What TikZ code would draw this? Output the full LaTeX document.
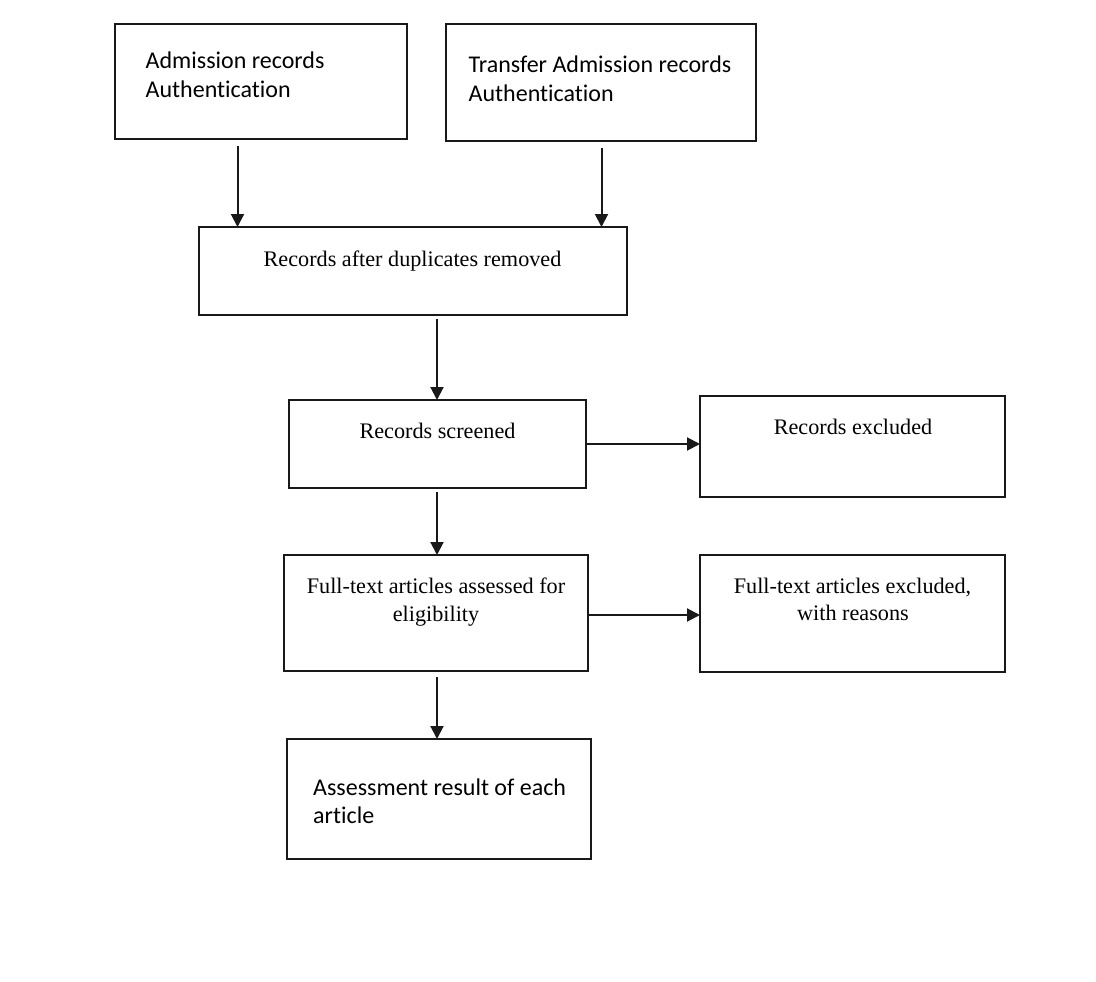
\documentclass[tikz,border=0pt]{standalone}
\usepackage{fontspec}
\newfontfamily\calib[Ligatures=NoCommon]{Carlito}
\newfontfamily\serifx{Liberation Serif}
\usetikzlibrary{arrows.meta}
\begin{document}
\begin{tikzpicture}[x=1pt,y=-1pt,
  box/.style={draw=black!90, line width=1.8pt, inner sep=0pt, outer sep=0pt, rectangle},
  arr/.style={draw=black!90, line width=2pt, -{Triangle[length=13pt,width=13pt]}},
  sanstxt/.style={inner sep=0pt, anchor=base west, font=\calib\fontsize{24}{29}\selectfont},
  seriftxt/.style={inner sep=0pt, anchor=base, font=\serifx\fontsize{22.2}{28}\selectfont}]
\useasboundingbox[fill=white] (0,0) rectangle (1096,982);
% boxes
\node[box, minimum width=292pt, minimum height=115pt] (A) at (261,81.5) {};
\node[box, minimum width=310pt, minimum height=117pt] (B) at (601,82.5) {};
\node[box, minimum width=428pt, minimum height=88pt] (C) at (413,271) {};
\node[box, minimum width=297pt, minimum height=88pt] (D) at (437.5,444) {};
\node[box, minimum width=305pt, minimum height=101pt] (E) at (852.5,446.5) {};
\node[box, minimum width=304pt, minimum height=116pt] (F) at (436,613) {};
\node[box, minimum width=305pt, minimum height=117pt] (G) at (852.5,613.5) {};
\node[box, minimum width=304pt, minimum height=120pt] (H) at (439,799) {};
% texts
\node[sanstxt] (tA1) at (145.5,69) {Admission records};
\node[sanstxt] (tA2) at (145.5,98) {Authentication};
\node[sanstxt] (tB1) at (468.5,73) {Transfer Admission records};
\node[sanstxt] (tB2) at (468.5,102) {Authentication};
\node[seriftxt] (tC) at (412.5,266) {Records after duplicates removed};
\node[seriftxt] (tD) at (437.5,438) {Records screened};
\node[seriftxt] (tE) at (853,434) {Records excluded};
\node[seriftxt] (tF1) at (436,593) {Full-text articles assessed for};
\node[seriftxt] (tF2) at (436,621) {eligibility};
\node[seriftxt] (tG1) at (852.5,593) {Full-text articles excluded,};
\node[seriftxt] (tG2) at (853,620) {with reasons};
\node[sanstxt] (tH1) at (313,795) {Assessment result of each};
\node[sanstxt] (tH2) at (313,823) {article};
% helper coordinates
\coordinate (xa) at (237.5,0);
\coordinate (xb) at (601.5,0);
\coordinate (xc) at (437,0);
\coordinate (yfg) at (0,615);
% connectors
\draw[arr, shorten <=7pt] (A.south -| xa) -- (C.north -| xa);
\draw[arr, shorten <=7pt] (B.south -| xb) -- (C.north -| xb);
\draw[arr, shorten <=4pt] (C.south -| xc) -- (D.north -| xc);
\draw[arr, shorten <=4pt] (D.south -| xc) -- (F.north -| xc);
\draw[arr, shorten <=6pt] (F.south -| xc) -- (H.north -| xc);
\draw[arr] (D.east) -- (E.west |- D.east);
\draw[arr] (F.east |- yfg) -- (G.west |- yfg);
\end{tikzpicture}
\end{document}
